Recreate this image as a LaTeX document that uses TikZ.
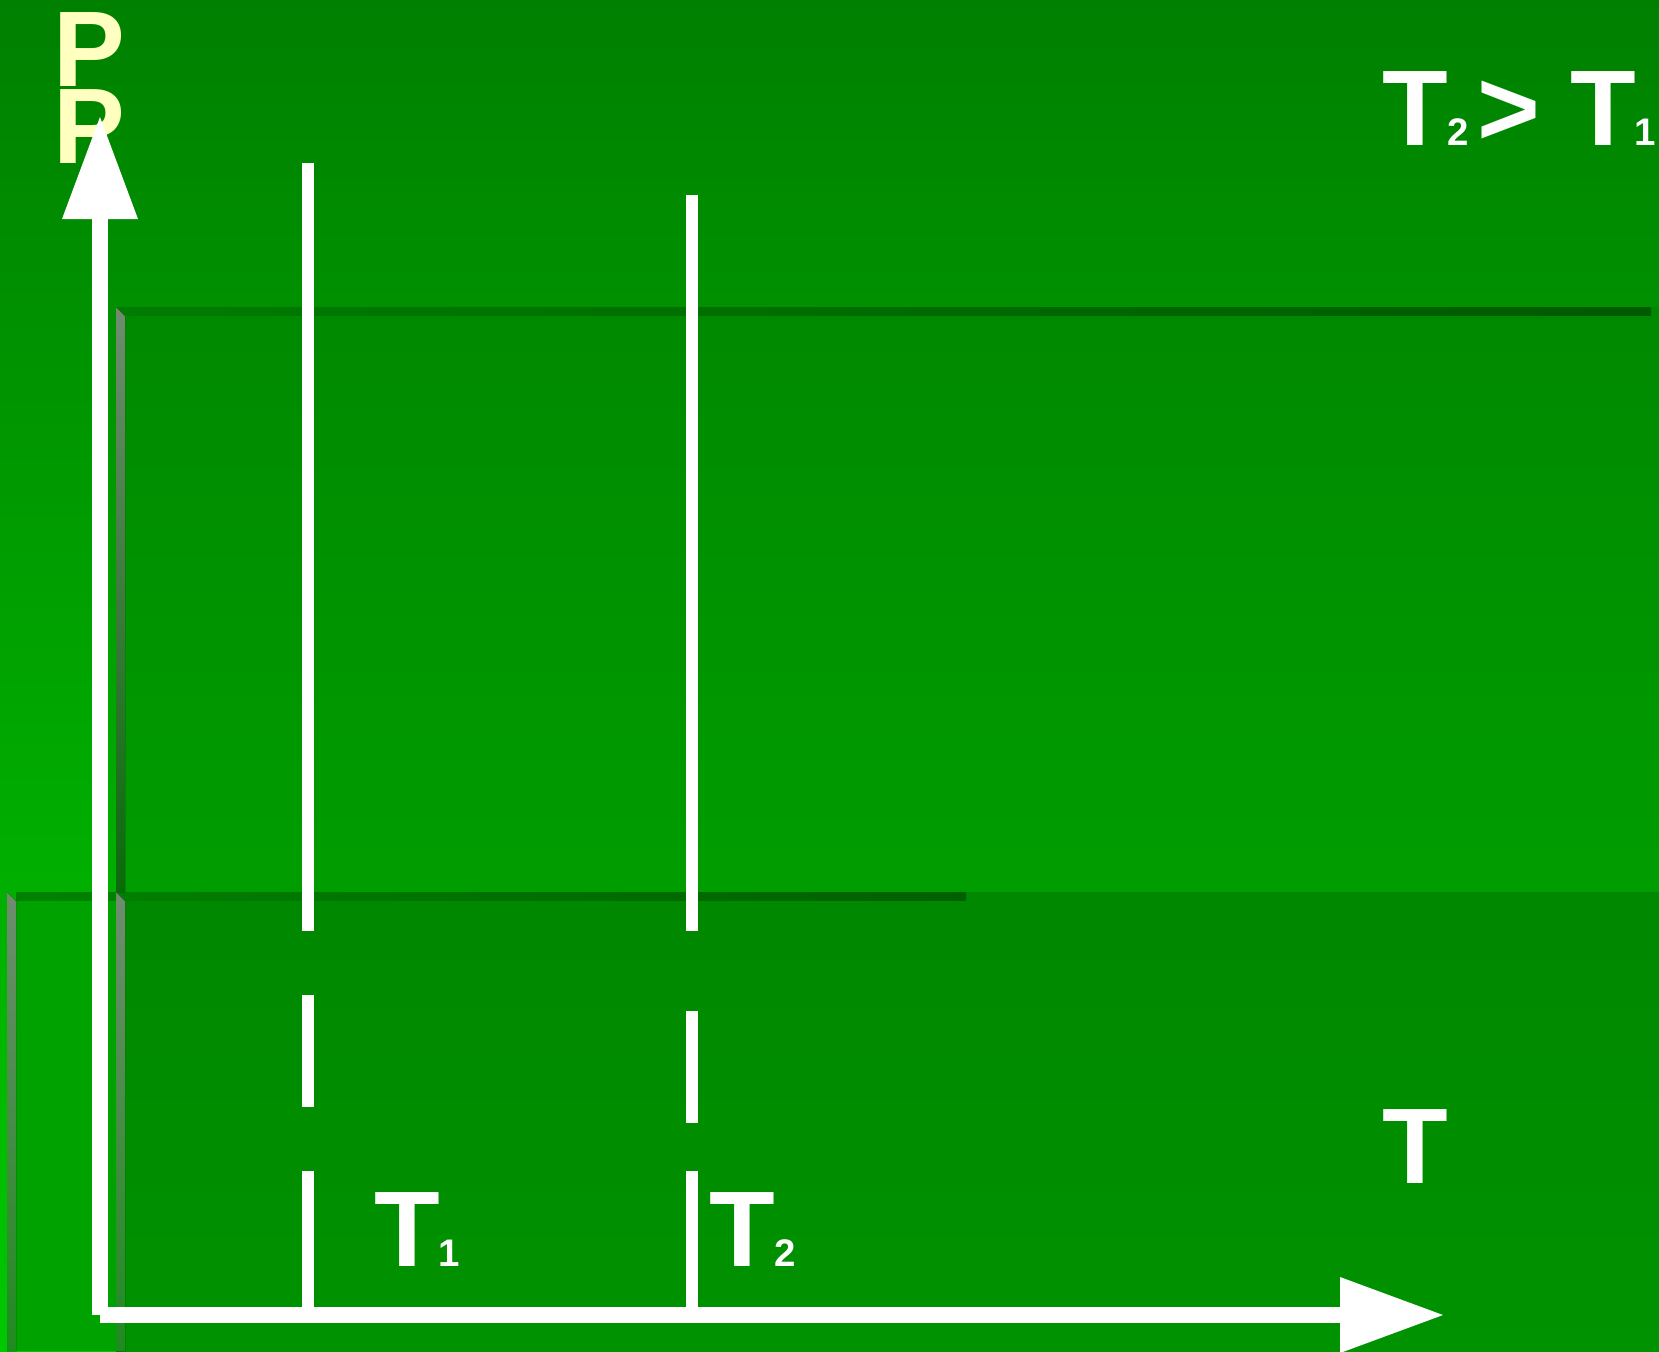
\documentclass[tikz,border=0pt]{standalone}
\usepackage{fontspec}
\setmainfont{Liberation Sans}
\usetikzlibrary{calc}
\definecolor{pyel}{RGB}{255,255,192}
\definecolor{bgtop}{RGB}{0,128,0}
\definecolor{bgbot}{RGB}{0,200,0}
\definecolor{pAtop}{RGB}{0,137,0}
\definecolor{pAbot}{RGB}{0,157,0}
\definecolor{pBtop}{RGB}{0,136,0}
\definecolor{pBbot}{RGB}{0,146,0}
\definecolor{pBleft}{RGB}{0,162,0}
\definecolor{dkA1}{RGB}{0,124,0}
\definecolor{dkA2}{RGB}{0,90,0}
\definecolor{dkB1}{RGB}{0,130,0}
\definecolor{dkB2}{RGB}{0,96,0}
\definecolor{bevtop}{RGB}{112,140,112}
\definecolor{bevbot}{RGB}{10,105,10}
\definecolor{bevbotB}{RGB}{30,140,30}
\begin{document}
\begin{tikzpicture}[x=0.5pt,y=-0.5pt,
  lbl/.style={inner sep=0pt, outer sep=0pt, anchor=base west, text=white,
    font=\bfseries\fontsize{53.75}{60}\selectfont},
  sublbl/.style={lbl, font=\bfseries\fontsize{19.2}{22}\selectfont},
  plbl/.style={lbl, text=pyel},
  axisline/.style={draw=white, line width=8pt},
  isoline/.style={draw=white, line width=6pt},
  tipfill/.style={fill=white},
  bevel/.style={top color=bevtop, bottom color=bevbot}]
\useasboundingbox (0,0) rectangle (1659,1351);
\clip (0,0) rectangle (1659,1351);
% background panels
\fill[top color=bgtop, bottom color=bgbot] (0,0) rectangle (1659,1351);
\fill[top color=pAtop, bottom color=pAbot] (116,307) rectangle (1659,892);
\fill[top color=pBtop, bottom color=pBbot] (116,892) rectangle (1659,1351);
\fill[pBleft] (16,892) rectangle (116,1351);
\fill[left color=dkA1, right color=dkA2] (116,307) rectangle (1651,315);
\fill[left color=dkB1, right color=dkB2] (16,892) rectangle (966,900);
\fill[bevel] (116,307) -- (125,316) -- (125,892) -- (116,892) -- cycle;
\fill[top color=bevtop, bottom color=bevbotB] (116,892) -- (125,901) -- (125,1351) -- (116,1351) -- cycle;
\fill[top color=bevtop, bottom color=bevbotB] (7,892) -- (16,901) -- (16,1351) -- (7,1351) -- cycle;
% P labels
\node[plbl] (p1) at (53,86) {P};
\node[plbl] (p2) at (53,163) {P};
% isotherms
\coordinate (t1a) at (308,163);
\coordinate (t1b) at (308,931);
\coordinate (t1c) at (308,995);
\coordinate (t1d) at (308,1107);
\coordinate (t1e) at (308,1171);
\coordinate (t1f) at (308,1315);
\coordinate (t2a) at (692,195);
\coordinate (t2b) at (692,931);
\coordinate (t2c) at (692,1011);
\coordinate (t2d) at (692,1123);
\coordinate (t2e) at (692,1171);
\coordinate (t2f) at (692,1315);
\draw[isoline] (t1a) -- (t1b) (t1c) -- (t1d) (t1e) -- (t1f);
\draw[isoline] (t2a) -- (t2b) (t2c) -- (t2d) (t2e) -- (t2f);
% axes
\coordinate (O) at (100,1315);
\coordinate (ybase) at (100,219);
\coordinate (ytip) at (100,117);
\coordinate (xbase) at (1340,1315);
\coordinate (xtip) at (1443,1315);
\draw[axisline] (O) -- (ybase);
\draw[axisline] (O) -- (xbase);
\fill[tipfill] ($(ybase)+(-38,0)$) -- (ytip) -- ($(ybase)+(38,0)$) -- cycle;
\fill[tipfill] ($(xbase)+(0,-38)$) -- (xtip) -- ($(xbase)+(0,38)$) -- cycle;
% labels
\node[lbl] (tax) at (1382,1183) {T};
\node[lbl] (tt2) at (1382,145) {T};
\node[sublbl] (s2) at (1447,145) {2};
\node[lbl] (gt) at (1477,145) {>};
\node[lbl] (tt1) at (1570,145) {T};
\node[sublbl] (s1) at (1634,145) {1};
\node[lbl] (b1) at (374,1266) {T};
\node[sublbl] (bs1) at (438,1266) {1};
\node[lbl] (b2) at (709,1266) {T};
\node[sublbl] (bs2) at (774,1266) {2};
\end{tikzpicture}
\end{document}
